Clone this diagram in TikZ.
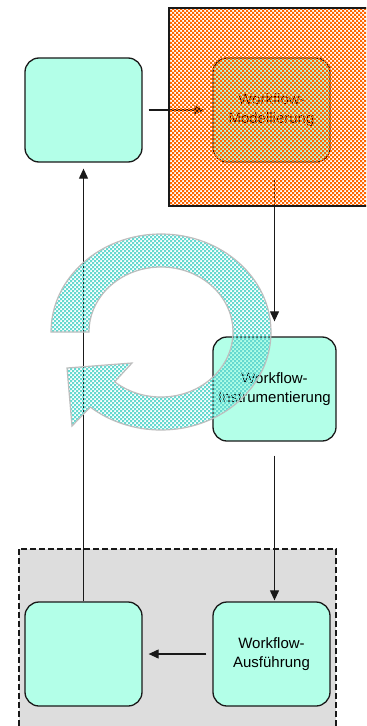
\documentclass[tikz,border=0pt]{standalone}
\usepackage{fontspec}
\setmainfont{Liberation Sans}
\usetikzlibrary{arrows.meta}
\definecolor{boxfill}{RGB}{179,255,232}
\definecolor{ringteal}{RGB}{102,217,208}
\definecolor{tileorange}{RGB}{255,102,0}
\definecolor{panelgray}{RGB}{221,221,221}
\definecolor{ringedge}{RGB}{190,190,190}
\definecolor{ink}{RGB}{25,25,25}

\begin{document}
\begin{tikzpicture}[x=1bp,y=-1bp,
  stage/.style={draw=ink, line width=1.3bp, fill=boxfill, rounded corners=14bp,
    minimum width=117bp, minimum height=104bp, align=center, inner sep=0pt,
    font=\fontsize{15bp}{18.5bp}\selectfont},
  flow/.style={draw=ink, line width=1.1bp, -{Triangle[length=10bp,width=9bp]}},
  checks/.style={even odd rule, fill=#1}]
\useasboundingbox (0,0) rectangle (366,726);
\clip (0,0) rectangle (366,726);

% execution panel (runs off the lower edge)
\draw[fill=panelgray, draw=ink, line width=1.1bp, dash pattern=on 6bp off 3bp]
  (19,549) rectangle (336,740);

% the five stages
\node[stage] (tl)    at (83.5,110)  {};
\node[stage] (mod)   at (271.5,110) {Workflow-\\Modellierung};
\node[stage, minimum width=123bp] (instr) at (274.5,389) {Workflow-\\Instrumentierung};
\node[stage] (aus)   at (271.5,654) {Workflow-\\Ausführung};
\node[stage] (bl)    at (83.5,654)  {};

% connectors
\draw[flow, shorten <=6bp, shorten >=8bp] (tl.east) -- (mod.west);
\draw[flow, shorten <=16bp, shorten >=15bp] (instr.north |- mod.south) -- (instr.north);
\draw[flow, shorten <=14bp, shorten >=1bp] (instr.south) -- (instr.south |- aus.north);
\draw[flow, shorten <=6bp, shorten >=6bp] (aus.west) -- (bl.east);
\draw[flow, shorten >=6bp] (bl.north) -- (tl.south);

% modelling area: 2bp checkerboard built from crossed stripes (even-odd)
\begin{scope}
  \clip (169,8) rectangle (366,206);
  \path[checks=tileorange]
    \foreach \i in {168,172,...,368} { (\i,6) rectangle ++(2,202) }
    \foreach \j in {6,10,...,206} { (166,\j) rectangle ++(204,2) };
\end{scope}
\draw[ink, line width=1.6bp] (370,8) -- (169,8) -- (169,206) -- (370,206);

% circular cycle arrow
\def\ringpath{(51,332) arc[start angle=180, end angle=490, x radius=110, y radius=98]
  -- (72,426) -- (67,368) -- (132,363)
  -- (114.7,381.8) arc[start angle=490, end angle=180, x radius=72, y radius=65]
  -- cycle}
\begin{scope}
  \clip \ringpath;
  \path[checks=ringteal]
    \foreach \i in {44,48,...,280} { (\i,228) rectangle ++(2,208) }
    \foreach \j in {228,232,...,436} { (44,\j) rectangle ++(238,2) };
\end{scope}
\draw[ringedge, line width=1.2bp] \ringpath;
\end{tikzpicture}
\end{document}
